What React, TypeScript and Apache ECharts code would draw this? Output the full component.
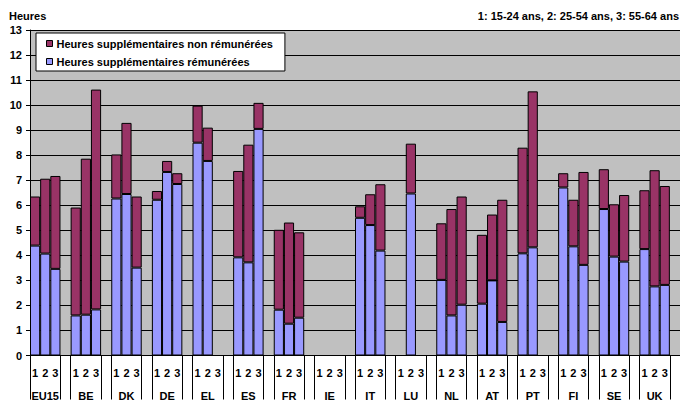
import React, { useEffect, useRef } from "react";
import * as echarts from "echarts";

const groups = ["EU15", "BE", "DK", "DE", "EL", "ES", "FR", "IE", "IT", "LU", "NL", "AT", "PT", "FI", "SE", "UK"];
const ageClasses = ["1", "2", "3"];
const yTicks = { min: 0, max: 13, step: 1 };

// Heures supplémentaires rémunérées (per group: classes 1, 2, 3)
const paid: (number | null)[][] = [
  [4.39, 4.07, 3.46],
  [1.6, 1.63, 1.84],
  [6.27, 6.45, 3.51],
  [6.22, 7.33, 6.85],
  [8.5, 7.77, null],
  [3.92, 3.72, 9.05],
  [1.83, 1.27, 1.51],
  [null, null, null],
  [5.5, 5.21, 4.19],
  [null, 6.47, null],
  [3.02, 1.6, 2.03],
  [2.07, 3.0, 1.34],
  [4.08, 4.32, null],
  [6.71, 4.36, 3.62],
  [5.85, 3.95, 3.75],
  [4.25, 2.76, 2.82],
];

// Heures supplémentaires non rémunérées (per group: classes 1, 2, 3)
const unpaid: (number | null)[][] = [
  [1.96, 2.99, 3.71],
  [4.31, 6.23, 8.78],
  [1.76, 2.84, 2.84],
  [0.35, 0.44, 0.43],
  [1.48, 1.33, null],
  [3.45, 4.7, 1.04],
  [3.19, 4.04, 3.41],
  [null, null, null],
  [0.46, 1.23, 2.65],
  [null, 1.99, null],
  [2.26, 4.25, 4.32],
  [2.75, 2.63, 4.88],
  [4.22, 6.23, null],
  [0.57, 1.86, 3.71],
  [1.59, 2.09, 2.66],
  [2.35, 4.64, 3.95],
];

const seriesNames = ["Heures supplémentaires non rémunérées", "Heures supplémentaires rémunérées"];
const yTitle = "Heures";
const ageNote = "1: 15-24 ans, 2: 25-54 ans, 3: 55-64 ans";

const FONT = "'Liberation Sans', Arial, sans-serif";

export default function App() {
  const ref = useRef<HTMLDivElement>(null);

  useEffect(() => {
    if (!ref.current) return;
    const chart = echarts.init(ref.current, null, { renderer: "svg" });

    const categories: string[] = [];
    const paidData: (number | null)[] = [];
    const unpaidData: (number | null)[] = [];
    groups.forEach((g, gi) => {
      ageClasses.forEach((a, ai) => {
        categories.push(g + "|" + a);
        paidData.push(paid[gi][ai]);
        unpaidData.push(unpaid[gi][ai]);
      });
      categories.push(g + "|");
      paidData.push(null);
      unpaidData.push(null);
    });

    const option: any = {
      animation: false,
      backgroundColor: "#ffffff",
      textStyle: { fontFamily: FONT },
      graphic: [
        {
          type: "text",
          left: 9,
          top: 10,
          style: { text: yTitle, font: `bold 11px ${FONT}`, fill: "#000" },
        },
        {
          type: "text",
          right: 1,
          top: 10,
          style: { text: ageNote, font: `bold 11px ${FONT}`, fill: "#000" },
        },
      ],
      legend: {
        orient: "vertical",
        left: 36,
        top: 33,
        width: 254,
        data: seriesNames,
        backgroundColor: "#ffffff",
        borderColor: "#000",
        borderWidth: 1,
        borderRadius: 0,
        padding: [4, 12, 3, 10],
        itemWidth: 6,
        itemHeight: 6,
        itemGap: 5,
        icon: "rect",
        itemStyle: { borderColor: "#000", borderWidth: 1 },
        textStyle: { fontFamily: FONT, fontWeight: "bold", fontSize: 11, color: "#000", lineHeight: 13, padding: [0, 0, 0, -1] },
      },
      grid: {
        left: 30,
        right: -11,
        top: 30,
        bottom: 44,
        show: true,
        backgroundColor: "#C0C0C0",
        borderWidth: 0,
      },
      xAxis: {
        type: "category",
        data: categories,
        boundaryGap: true,
        axisLine: { lineStyle: { color: "#000", width: 1 } },
        axisTick: {
          show: true,
          length: 44,
          lineStyle: { color: "#000", width: 1 },
          interval: (i: number) => i % 4 === 3 || i % 4 === 0,
        },
        axisLabel: {
          interval: 0,
          margin: 10,
          formatter: (v: string) => {
            const [g, a] = v.split("|");
            if (!a) return "";
            if (a === ageClasses[1]) return `{n|${a}}\n{g|${g}}`;
            return `{n|${a}}`;
          },
          rich: {
            n: { fontFamily: FONT, fontWeight: "bold", fontSize: 11, lineHeight: 14, color: "#000" },
            g: { fontFamily: FONT, fontWeight: "bold", fontSize: 11, lineHeight: 32, color: "#000" },
          },
        },
        splitLine: { show: false },
      },
      yAxis: {
        type: "value",
        min: yTicks.min,
        max: yTicks.max,
        interval: yTicks.step,
        axisLine: { show: true, lineStyle: { color: "#000", width: 1 } },
        axisTick: { show: true, length: 4, lineStyle: { color: "#000" } },
        axisLabel: { margin: 8, color: "#000", fontFamily: FONT, fontWeight: "bold", fontSize: 11 },
        splitLine: { show: true, lineStyle: { color: "#000", width: 1 } },
      },
      series: [
        {
          name: seriesNames[1],
          type: "bar",
          stack: "h",
          data: paidData,
          barCategoryGap: "0%",
          itemStyle: { color: "#9999FF", borderColor: "#000", borderWidth: 1 },
        },
        {
          name: seriesNames[0],
          type: "bar",
          stack: "h",
          data: unpaidData,
          barCategoryGap: "0%",
          itemStyle: { color: "#993366", borderColor: "#000", borderWidth: 1 },
        },
      ],
    };

    chart.setOption(option);
    return () => chart.dispose();
  }, []);

  return (
    <div
      ref={ref}
      style={{ position: "fixed", left: 0, top: 0, width: 680, height: 401 }}
    />
  );
}
